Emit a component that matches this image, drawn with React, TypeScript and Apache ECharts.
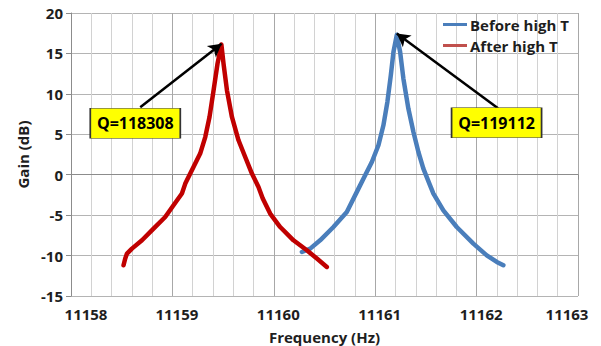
import React, { useEffect, useRef } from 'react';
import * as echarts from 'echarts';

const seriesNames = ['Before high T', 'After high T'];

const beforeFreq = [11160.277, 11160.359, 11160.457, 11160.588, 11160.72, 11160.835, 11160.901, 11160.967, 11161.032, 11161.081, 11161.12, 11161.154, 11161.18, 11161.213, 11161.246, 11161.278, 11161.327, 11161.377, 11161.426, 11161.475, 11161.541, 11161.574, 11161.672, 11161.804, 11161.968, 11162.1, 11162.199, 11162.264];
const beforeGain = [-9.56, -9.14, -8.11, -6.47, -4.61, -1.72, -0.07, 1.57, 3.64, 6.11, 8.99, 12.3, 15.18, 17.3, 15.18, 11.89, 8.18, 5.28, 2.81, 0.76, -1.31, -2.33, -4.4, -6.47, -8.52, -9.97, -10.79, -11.2];

const afterFreq = [11158.518, 11158.535, 11158.552, 11158.601, 11158.7, 11158.814, 11158.929, 11159.011, 11159.094, 11159.127, 11159.208, 11159.274, 11159.324, 11159.366, 11159.406, 11159.445, 11159.483, 11159.504, 11159.538, 11159.587, 11159.652, 11159.718, 11159.784, 11159.849, 11159.89, 11159.964, 11160.063, 11160.194, 11160.326, 11160.425, 11160.523];
const afterGain = [-11.2, -10.37, -9.75, -9.14, -8.11, -6.66, -5.23, -3.78, -2.33, -1.1, 0.95, 2.61, 4.66, 7.14, 10.44, 13.74, 16.1, 13.74, 10.44, 7.14, 4.26, 2.19, 0.14, -1.52, -2.92, -4.81, -6.47, -8.11, -9.35, -10.37, -11.41];

const qLabels = ['Q=119112', 'Q=118308'];
// annotation anchors in data coordinates
const beforeBox = [11162.197, 6.42];
const beforeArrowFrom = [11162.211, 8.21];
const beforeArrowTo = [11161.213, 17.45];
const afterBox = [11158.634, 6.36];
const afterArrowFrom = [11158.683, 8.34];
const afterArrowTo = [11159.485, 16.2];

const xMin = 11158;
const xMax = 11163;
const yMin = -15;
const yMax = 20;

const FONT = "'Open Sans', sans-serif";
const TEXT = '#1e1e1e';

function pairs(xs: number[], ys: number[]) {
  return xs.map((x, i) => [x, ys[i]]);
}

function annotation(box: number[], from: number[], to: number[], text: string) {
  return {
    markLine: {
      silent: true,
      symbol: ['none', 'arrow'],
      symbolSize: [11, 13],
      label: { show: false },
      emphasis: { disabled: true },
      lineStyle: { color: '#000', width: 2.5, type: 'solid' },
      data: [[{ coord: from }, { coord: to }]],
    },
    markPoint: {
      silent: true,
      symbol: 'rect',
      symbolSize: [90, 30],
      itemStyle: { color: '#ffff00', borderColor: '#333', borderWidth: 1 },
      label: {
        show: true,
        position: 'inside',
        formatter: text,
        color: '#000',
        fontFamily: FONT,
        fontWeight: 'bold',
        fontSize: 16,
      },
      emphasis: { disabled: true },
      data: [{ coord: box }],
    },
  };
}

const tickText = { fontFamily: FONT, fontWeight: 'bold', fontSize: 15, color: TEXT, lineHeight: 15 };

export default function App() {
  const ref = useRef<HTMLDivElement>(null);
  useEffect(() => {
    if (!ref.current) return;
    const chart = echarts.init(ref.current, undefined, { renderer: 'svg' });
    chart.setOption({
      animation: false,
      backgroundColor: '#ffffff',
      grid: { left: 71, right: 23, top: 13, bottom: 50, containLabel: false, outerBoundsMode: 'none' },
      legend: {
        orient: 'vertical',
        left: 443,
        top: 17,
        padding: 0,
        itemWidth: 24,
        itemHeight: 3,
        itemGap: 6,
        icon: 'rect',
        textStyle: { fontFamily: FONT, fontWeight: 'bold', fontSize: 15, color: TEXT, padding: [0, 0, 0, -2] },
        data: [
          { name: seriesNames[0], itemStyle: { color: '#4a7ebb' } },
          { name: seriesNames[1], itemStyle: { color: '#c0504d' } },
        ],
      },
      xAxis: {
        type: 'value',
        min: xMin,
        max: xMax,
        interval: 1,
        name: 'Frequency (Hz)',
        nameLocation: 'middle',
        nameGap: 33,
        nameTextStyle: { fontFamily: FONT, fontWeight: 'bold', fontSize: 15, color: TEXT },
        axisLine: { show: true, lineStyle: { color: '#8c8c8c', width: 1 } },
        axisTick: { show: true, length: 5, lineStyle: { color: '#8c8c8c' } },
        axisLabel: {
          margin: 10,
          ...tickText,
          formatter: (v: number) =>
            v === xMin ? `{first|${v}}` : v === xMax ? `{last|${v}}` : `{mid|${v}}`,
          rich: {
            first: { ...tickText, padding: [0, 0, 0, 30] },
            mid: { ...tickText, padding: [0, 0, 0, 9] },
            last: { ...tickText, padding: [0, 22, 0, 0] },
          },
        },
        splitLine: { show: true, lineStyle: { color: '#a8a8a8', width: 1 } },
        minorTick: { show: false, splitNumber: 5 },
        minorSplitLine: { show: true, lineStyle: { color: '#d2d2d2', width: 1 } },
      },
      yAxis: {
        type: 'value',
        min: yMin,
        max: yMax,
        interval: 5,
        name: 'Gain (dB)',
        nameLocation: 'middle',
        nameGap: 37,
        nameTextStyle: { fontFamily: FONT, fontWeight: 'bold', fontSize: 15, color: TEXT },
        axisLine: { show: true, lineStyle: { color: '#8c8c8c', width: 1 } },
        axisTick: { show: true, length: 5, lineStyle: { color: '#8c8c8c' } },
        axisLabel: { margin: 8, ...tickText },
        splitLine: { show: true, lineStyle: { color: '#b4b4b4', width: 1 } },
      },
      series: [
        {
          name: seriesNames[0],
          type: 'line',
          showSymbol: false,
          symbol: 'none',
          data: pairs(beforeFreq, beforeGain),
          lineStyle: { color: '#4a7ebb', width: 4.5, cap: 'round', join: 'round' },
          itemStyle: { color: '#4a7ebb' },
          emphasis: { disabled: true },
          ...annotation(beforeBox, beforeArrowFrom, beforeArrowTo, qLabels[0]),
        },
        {
          name: seriesNames[1],
          type: 'line',
          showSymbol: false,
          symbol: 'none',
          data: pairs(afterFreq, afterGain),
          lineStyle: { color: '#c00000', width: 4.5, cap: 'round', join: 'round' },
          itemStyle: { color: '#c00000' },
          emphasis: { disabled: true },
          ...annotation(afterBox, afterArrowFrom, afterArrowTo, qLabels[1]),
        },
      ],
    });
    return () => chart.dispose();
  }, []);
  return (
    <div
      ref={ref}
      style={{ position: 'absolute', left: 0, top: 0, width: 601, height: 346 }}
    />
  );
}
